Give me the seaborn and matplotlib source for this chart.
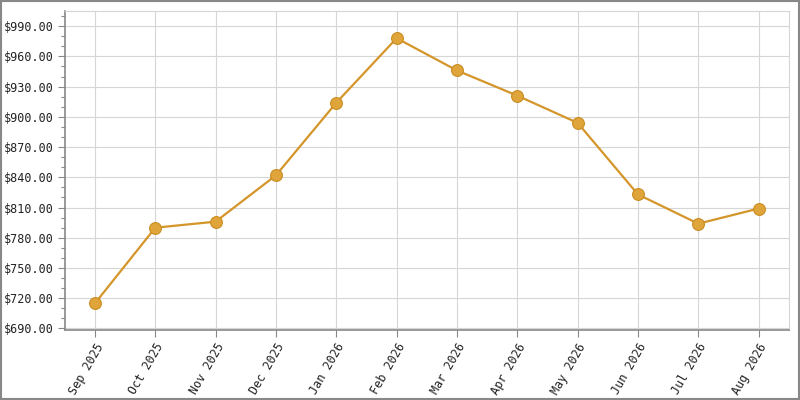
import pandas as pd
import seaborn as sns
import matplotlib.pyplot as plt
from matplotlib.patches import Rectangle
from matplotlib.ticker import MultipleLocator, FuncFormatter

# Monthly values
months = ['Sep 2025', 'Oct 2025', 'Nov 2025', 'Dec 2025', 'Jan 2026', 'Feb 2026',
          'Mar 2026', 'Apr 2026', 'May 2026', 'Jun 2026', 'Jul 2026', 'Aug 2026']
prices = [715, 790, 796, 842, 914, 978, 946, 921, 894, 823, 794, 809]

df = pd.DataFrame({'month': months, 'price': prices})
df['pos'] = range(len(df))

sns.set_style('white')
plt.rcParams['font.family'] = ['DejaVu Sans Mono']

fig = plt.figure(figsize=(8, 4), dpi=100)
ax = fig.add_axes([0.081, 0.175, 0.905, 0.7975])

sns.lineplot(data=df, x='pos', y='price', ax=ax, color='#D4952A', linewidth=1.6,
             marker='o', markersize=8.5, markerfacecolor='#E0A53A',
             markeredgecolor='#C98D22', markeredgewidth=0.8)

ax.set_xlim(-0.5, 11.5)
ax.set_ylim(688.5, 1005)
ax.set_xticks(df['pos'])
ax.set_xticklabels(df['month'], rotation=60, ha='right', rotation_mode='anchor',
                   fontsize=8.5, color='#222222')
ax.yaxis.set_major_locator(MultipleLocator(30))
ax.yaxis.set_minor_locator(MultipleLocator(10))
ax.yaxis.set_major_formatter(FuncFormatter(lambda v, p: f'${v:,.2f}'))
ax.tick_params(axis='y', labelsize=8.5, labelcolor='#222222')
ax.tick_params(axis='both', which='major', length=5, width=0.8, color='#888888',
               direction='out', left=True, bottom=True, pad=3)
ax.tick_params(axis='y', which='minor', length=3, width=0.8, color='#888888',
               direction='out', left=True)
ax.set_xlabel('')
ax.set_ylabel('')

ax.grid(True, which='major', color='#d6d6d6', linewidth=0.8)
ax.set_axisbelow(True)
for side in ['top', 'right']:
    ax.spines[side].set_color('#d6d6d6')
    ax.spines[side].set_linewidth(0.8)
for side in ['left', 'bottom']:
    ax.spines[side].set_color('#888888')
    ax.spines[side].set_linewidth(1.2)

# grey outer frame
fig.patches.append(Rectangle((0.001, 0.002), 0.998, 0.996, transform=fig.transFigure,
                             fill=False, edgecolor='#888888', linewidth=1.5))

fig.savefig('out.png', dpi=100)
